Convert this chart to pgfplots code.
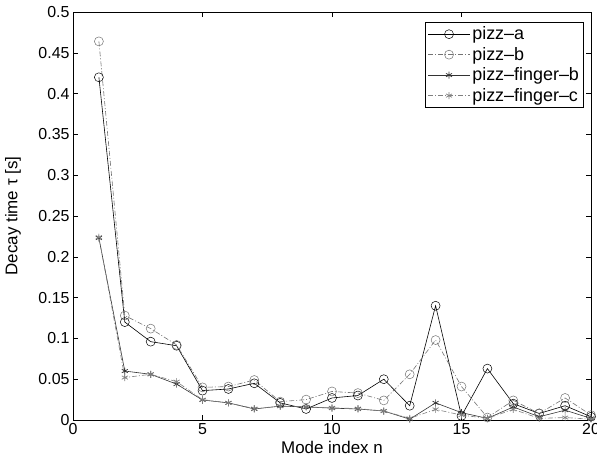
\documentclass[border=0pt]{standalone}
\usepackage{pgfplots}
\pgfplotsset{compat=1.18}
\usepackage{fontspec}
\setmainfont{Liberation Sans}
\usetikzlibrary{plotmarks}
\begin{document}
\begin{tikzpicture}
\begin{axis}[
  at={(0,0)}, anchor=south west,
  scale only axis, width=518bp, height=408bp,
  xmin=0, xmax=20, ymin=0, ymax=0.5,
  xtick={0,5,10,15,20},
  ytick={0,0.05,0.1,0.15,0.2,0.25,0.3,0.35,0.4,0.45,0.5},
  scaled y ticks=false,
  yticklabel style={/pgf/number format/fixed,/pgf/number format/precision=2},
  /pgf/number format/assume math mode=true,
  tick align=inside, major tick length=5bp,
  tick style={black, line width=0.5pt},
  axis line style={line width=0.6pt},
  tick label style={font=\fontsize{16}{18}\selectfont},
  xlabel={Mode index n},
  ylabel={Decay time τ [s]},
  every axis x label/.style={at={(axis description cs:0.5,-0.0833)}, anchor=base, font=\fontsize{17}{20}\selectfont},
  every axis y label/.style={at={(axis description cs:-0.1158,0.5)}, anchor=center, rotate=90, font=\fontsize{17}{20}\selectfont},
  legend cell align=left,
  legend style={at={(rel axis cs:0.985,0.975)}, anchor=north east, draw=black, line width=0.5pt,
     font=\fontsize{18}{20}\selectfont, row sep=2bp, inner xsep=2bp, inner ysep=2.5bp},
  legend image code/.code={\draw[mark repeat=2,mark phase=2] plot coordinates {(0bp,0bp) (21bp,0bp) (42bp,0bp)};},
]
\addplot[black, line width=0.6pt, mark=o, mark size=4.5bp, mark options={solid, line width=0.5pt}] coordinates {
(1,0.42) (2,0.12) (3,0.096) (4,0.091) (5,0.036) (6,0.038) (7,0.045) (8,0.021) (9,0.0135) (10,0.027)
(11,0.030) (12,0.050) (13,0.0175) (14,0.14) (15,0.005) (16,0.063) (17,0.020) (18,0.008) (19,0.0175) (20,0.004)};
\addlegendentry{pizz--a}
\addplot[black!55, line width=0.6pt, dash pattern=on 5bp off 2bp on 1bp off 2bp, mark=o, mark size=4.5bp, mark options={solid, line width=0.5pt}] coordinates {
(1,0.464) (2,0.128) (3,0.112) (4,0.092) (5,0.040) (6,0.041) (7,0.049) (8,0.0225) (9,0.025) (10,0.035)
(11,0.033) (12,0.024) (13,0.056) (14,0.098) (15,0.041) (16,0.003) (17,0.024) (18,0.008) (19,0.027) (20,0.006)};
\addlegendentry{pizz--b}
\addplot[black!80, line width=0.6pt, mark=asterisk, mark size=3.5bp, mark options={solid, line width=0.7pt}] coordinates {
(1,0.223) (2,0.060) (3,0.056) (4,0.044) (5,0.0245) (6,0.021) (7,0.0135) (8,0.017) (9,0.016) (10,0.0145)
(11,0.0135) (12,0.011) (13,0.001) (14,0.021) (15,0.009) (16,0.002) (17,0.016) (18,0.004) (19,0.012) (20,0.002)};
\addlegendentry{pizz--finger--b}
\addplot[black!50, line width=0.6pt, dash pattern=on 5bp off 2bp on 1bp off 2bp, mark=asterisk, mark size=3.5bp, mark options={solid, line width=0.7pt}] coordinates {
(1,0.224) (2,0.052) (3,0.056) (4,0.047) (5,0.025) (6,0.021) (7,0.014) (8,0.017) (9,0.016) (10,0.015)
(11,0.014) (12,0.011) (13,0.002) (14,0.013) (15,0.006) (16,0.002) (17,0.013) (18,0.002) (19,0.003) (20,0.001)};
\addlegendentry{pizz--finger--c}
\end{axis}
\pgfresetboundingbox
\path (-73bp,-44bp) rectangle (524bp,420bp);
\end{tikzpicture}
\end{document}
